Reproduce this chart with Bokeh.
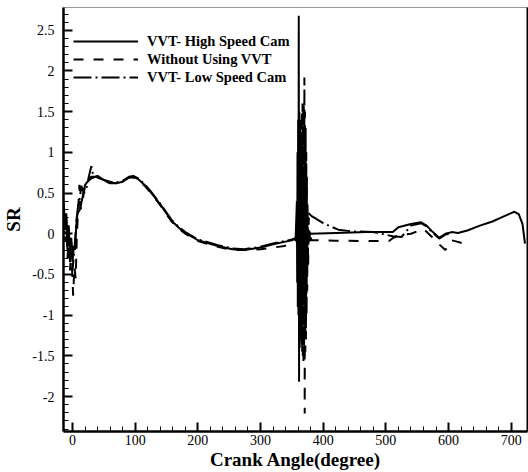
from bokeh.plotting import figure
from bokeh.models import FixedTicker, LinearAxis, Legend, LegendItem, Range1d
from bokeh.embed import file_html
from bokeh.resources import INLINE

# ---- data ----
hs_x = [-14, -12, -10, -8, -6, -4, -2, 0, 2, 4, 6, 8, 12, 16, 20, 25, 30, 40, 50, 60, 70, 80, 90, 97,
        105, 115, 126, 140, 158, 170, 180, 200, 232, 255, 274, 300, 320, 338, 350, 356,
        358, 358.5, 359, 359.5, 360, 360.5, 361, 361.5, 362, 362.5, 363, 363.5, 364, 364.5, 365, 365.5,
        366, 366.5, 367, 367.5, 368, 368.5, 369, 369.5, 370, 371, 372, 373, 374, 376, 380,
        420, 470, 505, 511, 520, 540, 556, 565, 575, 585, 595, 605, 615, 630, 650, 670, 690, 705, 712,
        718, 722]
hs_y = [0.38, 0.05, 0.25, -0.15, 0.1, -0.3, -0.05, -0.35, -0.15, -0.2, 0.1, 0.25, 0.3, 0.45, 0.6, 0.65,
        0.68, 0.71, 0.66, 0.63, 0.62, 0.64, 0.69, 0.70, 0.67, 0.6, 0.5, 0.36, 0.16, 0.07, 0.01, -0.08,
        -0.15, -0.19, -0.2, -0.17, -0.13, -0.1, -0.08, -0.06,
        0.4, -0.6, 1.0, -0.9, 1.4, -1.0, 2.68, -1.82, 1.5, -1.4, 1.4, -1.3, 1.2, -1.2, 1.1, -1.0,
        0.9, -0.9, 0.8, -0.7, 0.6, -0.6, 0.5, -0.4, 0.35, -0.3, 0.25, -0.15, 0.1, 0.02, 0.0,
        0.01, 0.02, 0.02, 0.02, 0.08, 0.12, 0.14, 0.1, 0.02, -0.05, 0.0, 0.02, 0.01, 0.04, 0.1, 0.15,
        0.22, 0.27, 0.24, 0.12, -0.12]

wo_x = [-14, -12, -10, -8, -6, -4, -2, 1, 3, 5, 7, 9, 11, 13, 16, 20, 25, 30, 40, 50, 60, 70, 80, 90, 97,
        105, 115, 126, 140, 158, 170, 180, 200, 232, 255, 274, 300, 320, 338, 350, 356,
        360, 361, 362, 363, 364, 364.5, 365, 365.5, 366, 366.5, 367, 367.5, 368, 368.5, 369, 369.5,
        370, 370.5, 371, 371.5, 372, 372.5, 373, 373.5, 374, 374.5, 375, 376, 377, 378, 379, 381,
        420, 470, 505, 512, 520, 540, 560, 575, 585, 595, 605, 615, 628]
wo_y = [0.2, -0.1, 0.15, -0.3, 0.0, -0.45, -0.2, -0.76, -0.4, -0.55, 0.0, 0.3, 0.6, 0.3, 0.4, 0.6, 0.67,
        0.7, 0.7, 0.65, 0.62, 0.62, 0.65, 0.69, 0.69, 0.66, 0.59, 0.49, 0.35, 0.15, 0.06, 0.0, -0.09,
        -0.16, -0.2, -0.2, -0.19, -0.17, -0.15, -0.12, -0.08,
        0.3, -0.6, 0.9, -1.0, 1.2, -1.3, 1.3, -1.4, 1.5, -1.5, 1.6, -1.5, 1.5, -1.6, 1.6, -1.5,
        1.92, -2.21, 1.5, -1.45, 1.3, -1.3, 1.0, -1.0, 0.7, -0.7, 0.4, -0.4, 0.2, -0.15, 0.05, -0.08,
        -0.085, -0.09, -0.09, -0.05, -0.02, 0.0, 0.06, -0.05, -0.13, -0.2, -0.08, -0.1, -0.13]

ls_x = [-14, -12, -10, -8, -6, -4, -2, 0, 3, 6, 9, 12, 14, 18, 22, 26, 30, 33, 40, 50, 60, 70, 80, 90, 97,
        105, 115, 126, 140, 158, 170, 180, 200, 232, 255, 274, 300, 320, 338, 350,
        358, 360, 361, 362, 363, 364, 365, 366, 367, 368, 369, 370, 372, 375, 381,
        400, 424, 445, 480, 511, 525, 540, 556, 565, 575, 585, 595, 605]
ls_y = [0.3, 0.0, 0.2, -0.2, 0.05, -0.35, -0.1, -0.45, -0.2, 0.15, 0.35, 0.45, 0.59, 0.5, 0.55, 0.7, 0.83,
        0.72, 0.69, 0.66, 0.64, 0.63, 0.65, 0.7, 0.71, 0.68, 0.61, 0.51, 0.37, 0.17, 0.08, 0.02, -0.07,
        -0.14, -0.18, -0.19, -0.16, -0.12, -0.09, -0.07,
        -0.05, 0.5, -0.5, 0.9, -0.7, 0.8, -0.6, 0.7, -0.5, 0.5, -0.3, 0.4, 0.3, 0.27, 0.22,
        0.13, 0.05, 0.03, 0.02, -0.03, -0.04, 0.1, 0.13, 0.09, 0.01, -0.06, -0.01, 0.01]

series_labels = ["VVT- High Speed Cam", "Without Using VVT", "VVT- Low Speed Cam"]
x_ticks = [0, 100, 200, 300, 400, 500, 600, 700]
y_ticks = [-2, -1.5, -1, -0.5, 0, 0.5, 1, 1.5, 2, 2.5]
y_tick_labels = ["-2", "-1.5", "-1", "-0.5", "0", "0.5", "1", "1.5", "2", "2.5"]

SERIF = "Liberation Serif"

p = figure(width=528, height=472, output_backend="svg", toolbar_location=None,
           x_range=Range1d(-14.4, 726), y_range=Range1d(-2.43, 2.78),
           min_border_left=62, min_border_right=1, min_border_top=7, min_border_bottom=39)
p.background_fill_color = "white"
p.border_fill_color = "white"
p.xgrid.visible = False
p.ygrid.visible = False
p.outline_line_color = "#9a9a9a"
p.outline_line_width = 1

r1 = p.line(hs_x, hs_y, line_color="black", line_width=2)
r2 = p.line(wo_x, wo_y, line_color="black", line_width=2, line_dash="10 10")
r3 = p.line(ls_x, ls_y, line_color="black", line_width=2, line_dash="18 4 2 4")

for ax in (p.xaxis[0], p.yaxis[0]):
    ax.axis_line_width = 2.5
    ax.axis_line_color = "black"
    ax.major_tick_in = 9
    ax.major_tick_out = 0
    ax.minor_tick_in = 5
    ax.minor_tick_out = 0
    ax.major_tick_line_width = 2
    ax.minor_tick_line_width = 1
    ax.major_tick_line_color = "black"
    ax.minor_tick_line_color = "black"
    ax.major_label_text_font = SERIF
    ax.major_label_text_font_size = "14px"
    ax.major_label_text_color = "black"
    ax.axis_label_text_font = SERIF
    ax.axis_label_text_font_style = "bold"
    ax.axis_label_text_color = "black"

p.xaxis.ticker = FixedTicker(ticks=x_ticks, minor_ticks=list(range(0, 720, 20)))
p.yaxis.ticker = FixedTicker(ticks=y_ticks, minor_ticks=[round(-2.4 + 0.1 * i, 1) for i in range(52)])
p.yaxis.major_label_overrides = {t: s for t, s in zip(y_ticks, y_tick_labels)}
p.xaxis.axis_label = "Crank Angle(degree)"
p.yaxis.axis_label = "SR"
p.xaxis.axis_label_text_font_size = "19px"
p.yaxis.axis_label_text_font_size = "19px"
p.xaxis.major_label_standoff = 3
p.xaxis.axis_label_standoff = 1
p.yaxis.major_label_standoff = 9
p.yaxis.axis_label_standoff = 5

right = LinearAxis(ticker=FixedTicker(ticks=[]), major_label_text_font_size="0px",
                   major_tick_in=0, major_tick_out=0, minor_tick_in=0, minor_tick_out=0,
                   axis_line_width=2, axis_line_color="black")
p.add_layout(right, "right")

legend = Legend(items=[LegendItem(label=series_labels[0], renderers=[r1]),
                       LegendItem(label=series_labels[1], renderers=[r2]),
                       LegendItem(label=series_labels[2], renderers=[r3])],
                location=(10, 345), padding=0, margin=0, spacing=0,
                glyph_width=65, glyph_height=18, label_height=18, label_standoff=9,
                label_text_font=SERIF, label_text_font_style="bold", label_text_font_size="14.5px",
                label_text_color="black", border_line_color=None, background_fill_alpha=0)
p.add_layout(legend, "center")

open("out.html", "w").write(file_html(p, INLINE))
